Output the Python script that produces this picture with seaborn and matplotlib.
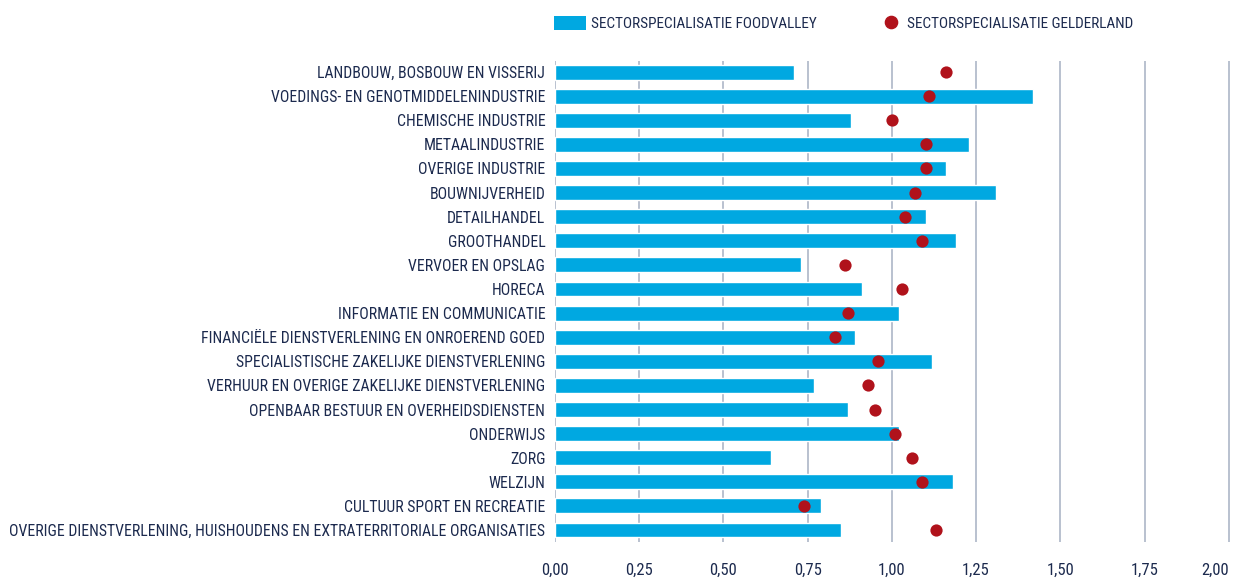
import matplotlib
matplotlib.use("Agg")
import matplotlib.pyplot as plt
from matplotlib.patches import Patch
from matplotlib.lines import Line2D
from matplotlib.ticker import FuncFormatter
import numpy as np
import pandas as pd
import seaborn as sns

sectors = [
    "LANDBOUW, BOSBOUW EN VISSERIJ",
    "VOEDINGS- EN GENOTMIDDELENINDUSTRIE",
    "CHEMISCHE INDUSTRIE",
    "METAALINDUSTRIE",
    "OVERIGE INDUSTRIE",
    "BOUWNIJVERHEID",
    "DETAILHANDEL",
    "GROOTHANDEL",
    "VERVOER EN OPSLAG",
    "HORECA",
    "INFORMATIE EN COMMUNICATIE",
    "FINANCIËLE DIENSTVERLENING EN ONROEREND GOED",
    "SPECIALISTISCHE ZAKELIJKE DIENSTVERLENING",
    "VERHUUR EN OVERIGE ZAKELIJKE DIENSTVERLENING",
    "OPENBAAR BESTUUR EN OVERHEIDSDIENSTEN",
    "ONDERWIJS",
    "ZORG",
    "WELZIJN",
    "CULTUUR SPORT EN RECREATIE",
    "OVERIGE DIENSTVERLENING, HUISHOUDENS EN EXTRATERRITORIALE ORGANISATIES",
]
foodvalley = [0.71, 1.42, 0.88, 1.23, 1.16, 1.31, 1.10, 1.19, 0.73, 0.91,
              1.02, 0.89, 1.12, 0.77, 0.87, 1.02, 0.64, 1.18, 0.79, 0.85]
gelderland = [1.16, 1.11, 1.00, 1.10, 1.10, 1.07, 1.04, 1.09, 0.86, 1.03,
              0.87, 0.83, 0.96, 0.93, 0.95, 1.01, 1.06, 1.09, 0.74, 1.13]
xticks = [0, 0.25, 0.5, 0.75, 1.0, 1.25, 1.5, 1.75, 2.0]

df = pd.DataFrame({"sector": sectors, "foodvalley": foodvalley, "gelderland": gelderland})

blue = "#00a8e1"
red = "#b0121b"
navy = "#1c2a4e"
grid = "#b3bccb"

sns.set_style("white")
plt.rcParams["font.family"] = ["Roboto Condensed", "Roboto", "DejaVu Sans"]

fig = plt.figure(figsize=(12.42, 5.81), dpi=100)
ax = fig.add_axes([0.4469, 0.067, 0.5435, 0.828])

sns.barplot(data=df, x="foodvalley", y="sector", color=blue, orient="h",
            width=0.62, saturation=1, ax=ax, zorder=2)
sns.stripplot(data=df, x="gelderland", y="sector", color=red, orient="h",
              jitter=False, size=8.8, linewidth=0, ax=ax, zorder=3)

ax.set_xlim(0, 2.004)
ax.set_ylim(19.5, -0.46)
ax.set_xticks(xticks)
ax.xaxis.set_major_formatter(FuncFormatter(lambda v, p: f"{v:.2f}".replace(".", ",")))
ax.grid(axis="x", color=grid, linewidth=1.3, zorder=0)
ax.set_axisbelow(True)
for s in ax.spines.values():
    s.set_visible(False)
ax.set_xlabel("")
ax.set_ylabel("")
ax.tick_params(axis="x", colors=grid, length=11, width=1.3, direction="out",
               labelcolor=navy, labelsize=12, pad=4)
ax.tick_params(axis="y", length=0, labelcolor=navy, labelsize=11.3, pad=7)
ax.get_xticklabels()[-1].set_horizontalalignment("right")

fig.legend(handles=[Patch(facecolor=blue, edgecolor="none")],
           labels=["SECTORSPECIALISATIE FOODVALLEY"],
           loc="center left", bbox_to_anchor=(0.435, 0.959), frameon=False,
           fontsize=11, labelcolor=navy, handlelength=2.1, handleheight=1.0,
           handletextpad=0.3)
fig.legend(handles=[Line2D([], [], marker="o", color=red, linestyle="none", markersize=8.8)],
           labels=["SECTORSPECIALISATIE GELDERLAND"],
           loc="center left", bbox_to_anchor=(0.701, 0.959), frameon=False,
           fontsize=11, labelcolor=navy, handlelength=0.9, handletextpad=0.6)

fig.savefig("out.png", dpi=100, facecolor="white")
